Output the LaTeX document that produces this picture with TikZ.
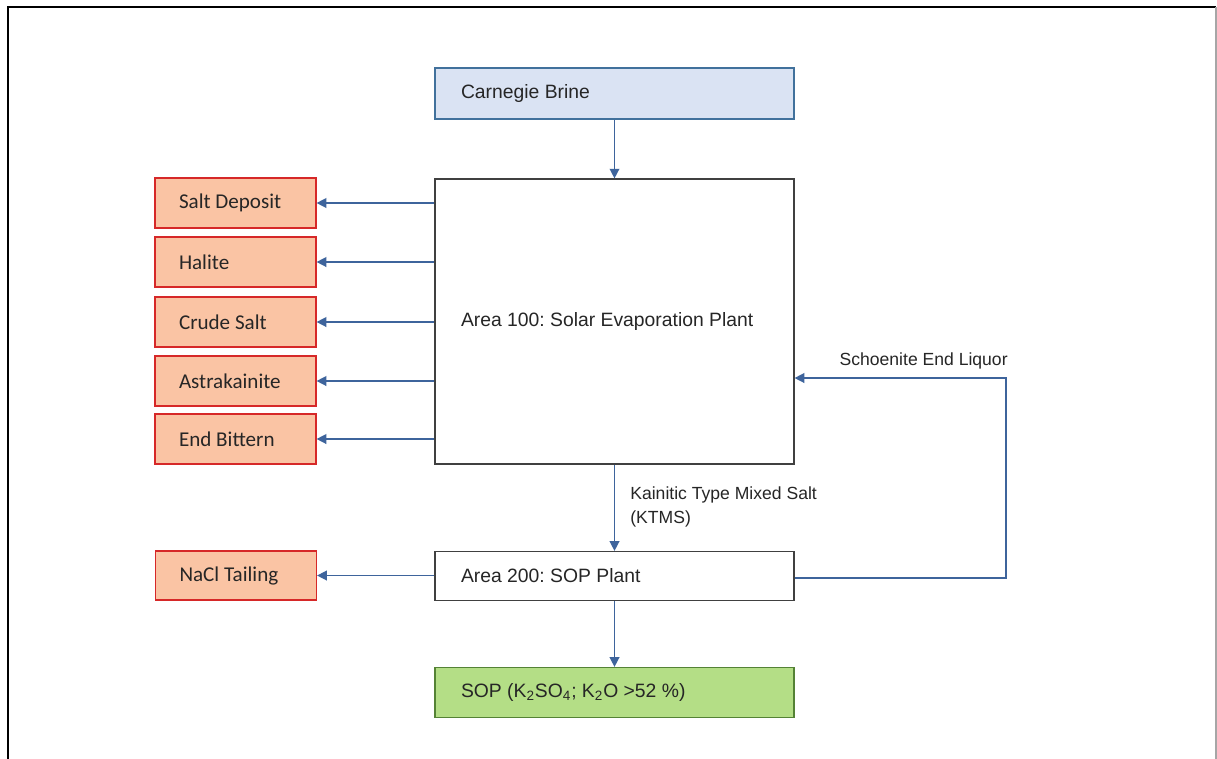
\documentclass[tikz,border=0pt]{standalone}
\usepackage{fontspec}
\setmainfont{Liberation Sans}
\newfontfamily\calib{Carlito}
\usetikzlibrary{arrows.meta,calc}

\definecolor{brinefill}{RGB}{218,227,243}
\definecolor{brineline}{RGB}{65,113,156}
\definecolor{wastefill}{RGB}{250,196,164}
\definecolor{wasteline}{RGB}{214,40,40}
\definecolor{sopfill}{RGB}{180,222,134}
\definecolor{sopline}{RGB}{84,130,53}
\definecolor{flowblue}{RGB}{62,100,156}
\definecolor{boxline}{RGB}{64,64,64}
\definecolor{txt}{RGB}{38,38,38}

\begin{document}
\frenchspacing
\begin{tikzpicture}[
  x=0.02cm, y=-0.02cm,
  plant/.style={draw=boxline, line width=0.7pt, minimum width=7.18cm, text width=6.14cm,
    inner xsep=0.52cm, align=flush left, text=txt, font=\fontsize{11}{13}\selectfont},
  waste/.style={draw=wasteline, fill=wastefill, line width=0.7pt, minimum width=3.22cm,
    minimum height=1cm, text width=2.26cm, inner xsep=0.48cm, align=flush left, text=txt,
    font=\calib\fontsize{12}{14}\selectfont},
  flow/.style={draw=flowblue, line width=0.8pt, -{Triangle[length=5.5pt,width=5.5pt]}},
  lbl/.style={text=txt, inner sep=0pt, align=flush left, font=\fontsize{10}{13.5}\selectfont}
]
\clip (0,0) rectangle (1217,758);
\fill[white] (0,0) rectangle (1217,758);

% frame
\draw[line width=1.1pt] (8,770) -- (8,7) -- (1216,7);
\draw[gray!70, line width=0.6pt] (1216,7) -- (1216,770);

% main process line
\node[plant, draw=brineline, fill=brinefill, minimum height=1.02cm] (brine) at (614.5,93.5) {Carnegie Brine};
\node[plant, minimum height=5.7cm] (a100) at (614.5,321.5) {Area 100: Solar Evaporation Plant};
\node[plant, minimum height=0.98cm] (a200) at (614.5,576) {Area 200: SOP Plant};
\node[plant, draw=sopline, fill=sopfill, minimum height=1cm] (sop) at (614.5,692.5)
  {SOP (K\textsubscript{2}SO\textsubscript{4}; K\textsubscript{2}O >52 \%)};

% by-products of the evaporation ponds
\node[waste] (salt) at (235.5,203) {Salt Deposit};
\node[waste] (hal) at (235.5,262) {Halite};
\node[waste] (crude) at (235.5,322) {Crude Salt};
\node[waste] (astra) at (235.5,381) {Astrakainite};
\node[waste] (bitt) at (235.5,439) {End Bittern};
\node[waste, minimum height=0.98cm] (nacl) at (236,575.5) {NaCl Tailing};

% streams
\draw[flow] (brine.south) -- (a100.north);
\draw[flow] (a100.south) -- (a200.north);
\draw[flow] (a200.south) -- (sop.north);
\foreach \n in {salt,hal,crude,astra,bitt,nacl}
  \draw[flow] (\n -| a100.west) -- (\n.east);

% recycle of schoenite liquor
\coordinate (ret) at (1006,378);
\draw[flow] ([yshift=-0.04cm]a200.east) -| (ret) -- (ret -| a100.east);

\node[lbl, anchor=west] (ktms) at (630,507) {Kainitic Type Mixed Salt\\(KTMS)};
\node[lbl, anchor=east] (schl) at (1008,361) {Schoenite End Liquor};
\end{tikzpicture}
\end{document}
